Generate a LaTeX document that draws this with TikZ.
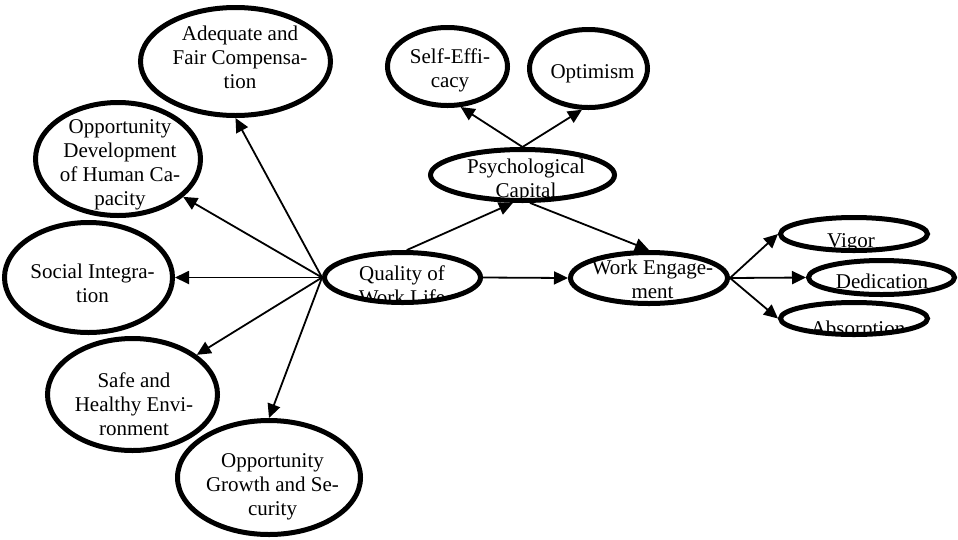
\documentclass[tikz,border=0pt]{standalone}
\usepackage{fontspec}
\setmainfont{Liberation Serif}
\usetikzlibrary{shapes.geometric,arrows.meta}
\tikzset{
  lbl/.style={shape=rectangle, draw=none, fill=none, inner sep=0pt, outer sep=0pt,
    minimum width=0pt, minimum height=0pt, align=center,
    font=\fontsize{21}{24}\selectfont, text=black},
  ov/.style n args={5}{ellipse, draw=black, line width=5pt, fill=white, inner sep=0pt,
    minimum width=#1, minimum height=#2,
    path picture={\node[lbl, xshift=#3, yshift=#4] at (path picture bounding box.center) {#5};}},
  arr/.style={line width=1.8pt, draw=black, -{Triangle[length=14pt,width=13pt]}},
}
\begin{document}
\begin{tikzpicture}[x=1pt,y=-1pt]
\fill[white] (0,0) rectangle (958,539);
\useasboundingbox (0,0) rectangle (958,539);
% left group
\node[ov={190pt}{108pt}{4.5pt}{2.3pt}{\strut Adequate and\\Fair Compensa-\\tion\strut}] (adeq) at (235.5,61.5) {};
\node[ov={165pt}{113pt}{2pt}{-5.2pt}{\strut Opportunity\\Development\\of Human Ca-\\pacity\strut}] (od) at (118,159) {};
\node[ov={168pt}{110pt}{4pt}{-7.7pt}{\strut Social Integra-\\tion\strut}] (si) at (88.5,277.5) {};
\node[ov={170pt}{112pt}{1.5pt}{-11.7pt}{\strut Safe and\\Healthy Envi-\\ronment\strut}] (she) at (132.5,394.5) {};
\node[ov={183pt}{114pt}{3.5pt}{-8.7pt}{\strut Opportunity\\Growth and Se-\\curity\strut}] (og) at (269,477.5) {};
% centre
\node[ov={156pt}{50pt}{-0.5pt}{-9.7pt}{\strut Quality of\\Work Life\strut}] (q) at (402.5,277.5) {};
\node[ov={184pt}{51pt}{3.5pt}{-5.2pt}{\strut Psychological\\Capital\strut}] (pc) at (522.5,175) {};
\node[ov={120pt}{78pt}{2.5pt}{-4.2pt}{\strut Self-Effi-\\cacy\strut}] (se) at (447.5,66.5) {};
\node[ov={118pt}{78pt}{4pt}{-4.7pt}{\strut Optimism}] (opt) at (588.5,68.5) {};
\node[ov={157pt}{51pt}{3.5pt}{-3.2pt}{\strut Work Engage-\\ment\strut}] (we) at (649,278) {};
% right group
\node[ov={147pt}{33pt}{-3pt}{-8.2pt}{\strut Vigor}] (vig) at (854,234) {};
\node[ov={146pt}{34pt}{0.5pt}{-5.7pt}{\strut Dedication}] (ded) at (881.5,277.5) {};
\node[ov={147pt}{32pt}{4pt}{-11.7pt}{\strut Absorption}] (abs) at (854,318.5) {};
% connectors
\draw[arr] (q.west) -- (adeq.south);
\draw[arr] (q.west) -- (od);
\draw[arr] (q.west) -- (si);
\draw[arr] (q.west) -- (she);
\draw[arr] (q.west) -- (og.north);
\draw[arr] (q.81) -- (pc.251);
\draw[arr] (pc.285) -- (we.north);
\draw[arr] (pc.north) -- (se.288);
\draw[arr] (pc.north) -- (opt.261);
\draw[arr] (q.east) -- (we.west);
\draw[arr] (we.east) -- (vig.west);
\draw[arr] (we.east) -- (ded.west);
\draw[arr] (we.east) -- (abs.west);
\end{tikzpicture}
\end{document}
